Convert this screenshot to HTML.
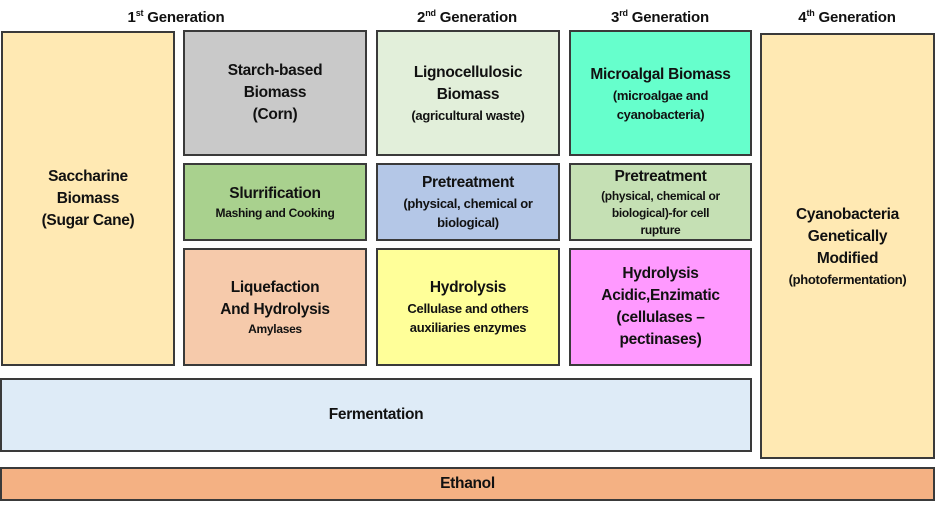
<!DOCTYPE html>
<html><head><style>
body{margin:0;width:940px;height:509px;background:#fff;position:relative;overflow:hidden;font-family:"Liberation Sans",sans-serif;font-weight:bold;color:#111}
.b{position:absolute;box-sizing:border-box;border:2px solid #3a3a3a;display:flex;flex-direction:column;align-items:center;justify-content:center;text-align:center;font-size:15.5px;line-height:22px;letter-spacing:-0.3px}
.s{font-size:12px;line-height:17px}
.m{font-size:13px;line-height:19px}
.h{position:absolute;top:8px;font-size:15px;text-align:center;width:180px;letter-spacing:-0.2px}
sup{font-size:9px}
</style></head><body>
<div class="h" style="left:86px">1<sup>st</sup> Generation</div>
<div class="h" style="left:377px">2<sup>nd</sup> Generation</div>
<div class="h" style="left:570px">3<sup>rd</sup> Generation</div>
<div class="h" style="left:757px">4<sup>th</sup> Generation</div>

<div class="b" style="left:1px;top:31px;width:174px;height:335px;background:#ffe9b3">Saccharine<br>Biomass<br>(Sugar Cane)</div>
<div class="b" style="left:183px;top:30px;width:184px;height:126px;background:#c9c9c9">Starch-based<br>Biomass<br>(Corn)</div>
<div class="b" style="left:183px;top:163px;width:184px;height:78px;background:#a9d18e">Slurrification<div class="s">Mashing and Cooking</div></div>
<div class="b" style="left:183px;top:248px;width:184px;height:118px;background:#f6caab">Liquefaction<br>And Hydrolysis<div class="s">Amylases</div></div>

<div class="b" style="left:376px;top:30px;width:184px;height:126px;background:#e2efda">Lignocellulosic<br>Biomass<div class="m">(agricultural waste)</div></div>
<div class="b" style="left:376px;top:163px;width:184px;height:78px;background:#b4c7e7">Pretreatment<div class="m">(physical, chemical or<br>biological)</div></div>
<div class="b" style="left:376px;top:248px;width:184px;height:118px;background:#ffff99">Hydrolysis<div class="m">Cellulase and others<br>auxiliaries enzymes</div></div>

<div class="b" style="left:569px;top:30px;width:183px;height:126px;background:#66ffcc;justify-content:flex-start;padding-top:32px">Microalgal Biomass<div class="m">(microalgae and<br>cyanobacteria)</div></div>
<div class="b" style="left:569px;top:163px;width:183px;height:78px;background:#c5e0b4">Pretreatment<div class="s">(physical, chemical or<br>biological)-for cell<br>rupture</div></div>
<div class="b" style="left:569px;top:248px;width:183px;height:118px;background:#ff99ff">Hydrolysis<br>Acidic,Enzimatic<br>(cellulases –<br>pectinases)</div>

<div class="b" style="left:760px;top:33px;width:175px;height:426px;background:#ffe9b3;padding-top:0">Cyanobacteria<br>Genetically<br>Modified<div class="m">(photofermentation)</div></div>

<div class="b" style="left:0;top:378px;width:752px;height:74px;background:#deebf7">Fermentation</div>
<div class="b" style="left:0;top:467px;width:935px;height:34px;background:#f4b183">Ethanol</div>
</body></html>
